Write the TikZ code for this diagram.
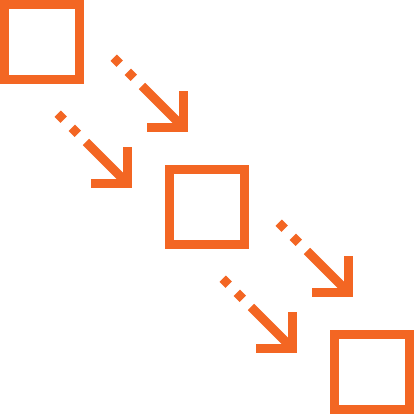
\documentclass[tikz,border=0pt]{standalone}
\usetikzlibrary{calc}
\definecolor{orng}{RGB}{243,102,35}
\begin{document}
\begin{tikzpicture}[x=1pt,y=-1pt,
  box/.style={draw=orng,line width=9.3pt,minimum size=75pt,inner sep=0pt,outer sep=0pt,fill=white},
  shaft/.style={draw=orng,line width=9pt,line cap=butt,dash pattern=on 8.5pt off 11.5pt on 8.5pt off 11.5pt on 300pt off 0pt},
  barb/.style={draw=orng,line width=9pt,line cap=butt,miter limit=10,line join=miter}]
\useasboundingbox (0,0) rectangle (415,416);
\node[box] (s1) at (42.15,42.15) {};
\node[box] (s2) at (207.15,207.15) {};
\node[box] (s3) at (372.15,372.15) {};
\foreach \i/\ox/\oy in {a/0/0,b/165/165}{
  % upper arrow
  \coordinate (u\i s) at ($(113.7,57.7)+(\ox,\oy)$);
  \coordinate (u\i e) at ($(183.2,127.2)+(\ox,\oy)$);
  \draw[shaft] (u\i s) -- (u\i e);
  \draw[barb] ($(u\i e)+(0,-36.2)$) -- (u\i e) -- ($(u\i e)+(-36.5,0)$);
  % lower arrow
  \coordinate (l\i s) at ($(57.7,113.7)+(\ox,\oy)$);
  \coordinate (l\i e) at ($(127.2,183.2)+(\ox,\oy)$);
  \draw[shaft] (l\i s) -- (l\i e);
  \draw[barb] ($(l\i e)+(0,-36.2)$) -- (l\i e) -- ($(l\i e)+(-36.5,0)$);
}
\end{tikzpicture}
\end{document}
